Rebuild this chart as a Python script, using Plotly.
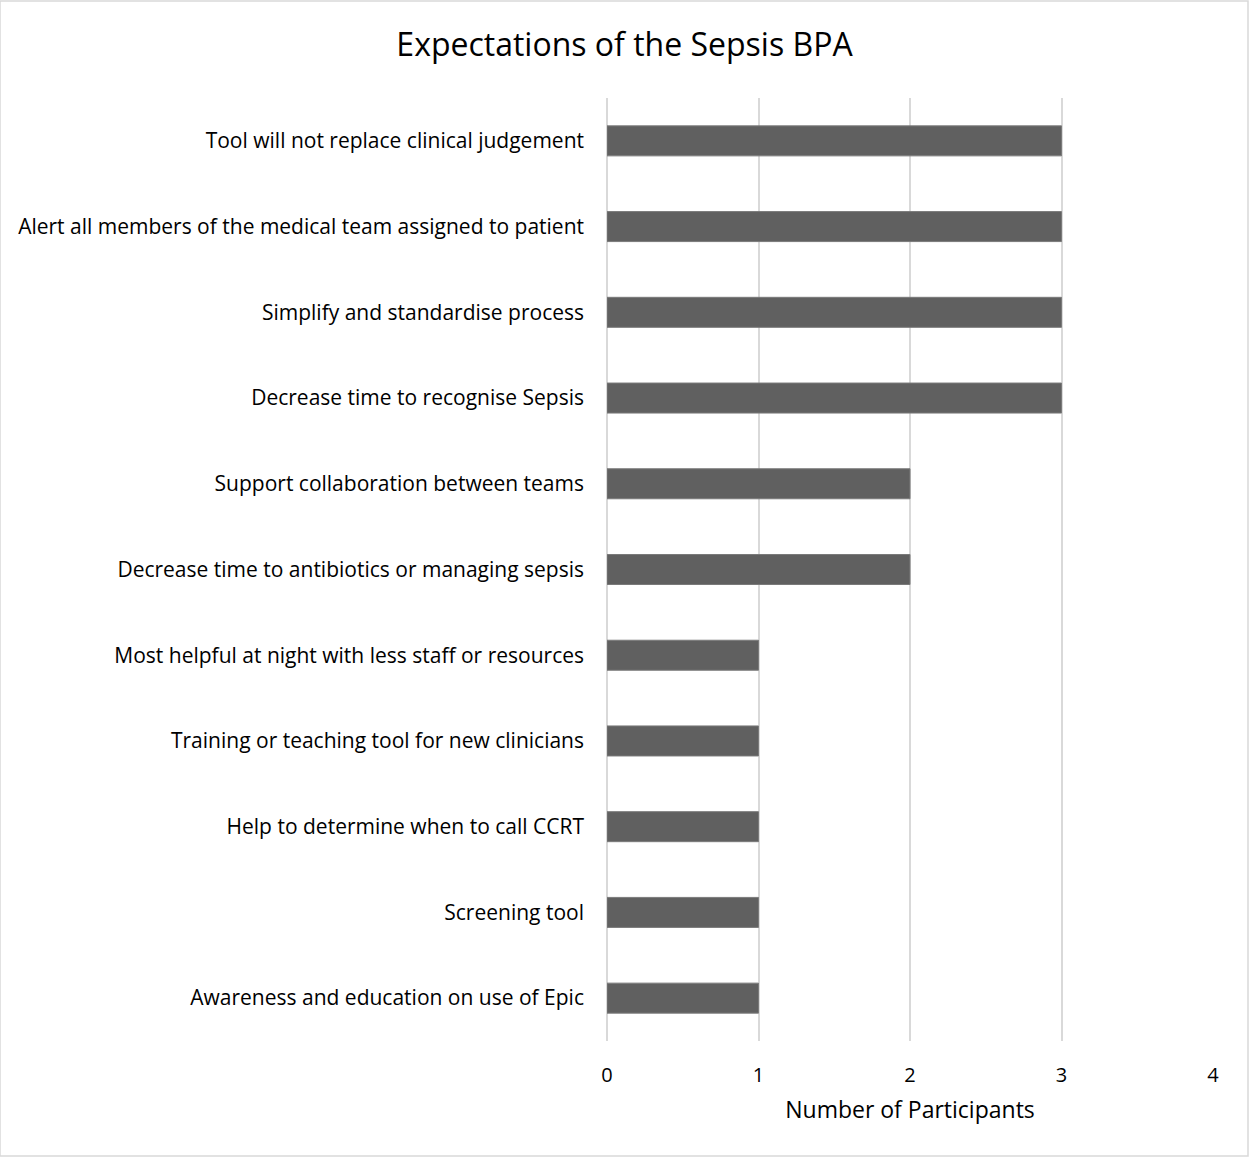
import plotly.graph_objects as go

categories = [
    "Tool will not replace clinical judgement",
    "Alert all members of the medical team assigned to patient",
    "Simplify and standardise process",
    "Decrease time to recognise Sepsis",
    "Support collaboration between teams",
    "Decrease time to antibiotics or managing sepsis",
    "Most helpful at night with less staff or resources",
    "Training or teaching tool for new clinicians",
    "Help to determine when to call CCRT",
    "Screening tool",
    "Awareness and education on use of Epic",
]
participants = [3, 3, 3, 3, 2, 2, 1, 1, 1, 1, 1]
x_ticks = [0, 1, 2, 3, 4]

FONT = "'Open Sans', Lato, sans-serif"

fig = go.Figure(
    go.Bar(
        x=participants,
        y=categories,
        orientation="h",
        width=0.35,
        marker=dict(color="#606060", line=dict(color="#7a7a7a", width=1)),
    )
)

fig.update_layout(
    width=1249,
    height=1157,
    paper_bgcolor="white",
    plot_bgcolor="white",
    margin=dict(l=607, r=36, t=98, b=116),
    title=dict(
        text="Expectations of the Sepsis BPA",
        x=0.5,
        xanchor="center",
        y=1 - 45 / 1157,
        yanchor="middle",
        font=dict(family=FONT, size=32, color="#000000"),
    ),
    font=dict(family=FONT, size=21, color="#000000"),
    showlegend=False,
    bargap=0.6,
    shapes=[
        dict(
            type="rect", xref="paper", yref="paper",
            x0=-607 / (1249 - 607 - 36), x1=1 + 35 / (1249 - 607 - 36),
            y0=-115 / (1157 - 98 - 116), y1=1 + 97 / (1157 - 98 - 116),
            line=dict(color="#d9d9d9", width=1.5),
            layer="below",
        )
    ],
)

fig.update_xaxes(
    range=[0, 4],
    tickvals=x_ticks,
    showgrid=True,
    gridcolor="#d9d9d9",
    gridwidth=1.5,
    zeroline=True,
    zerolinecolor="#d9d9d9",
    zerolinewidth=1.5,
    showline=False,
    ticks="",
    ticklabelstandoff=20,
    tickfont=dict(size=20),
    title=dict(text="Number of Participants", standoff=14, font=dict(size=23)),
)

fig.update_yaxes(
    autorange="reversed",
    showgrid=False,
    showline=False,
    ticks="",
    ticklabelstandoff=22,
    tickfont=dict(size=21),
)

fig.write_html("out.html")
